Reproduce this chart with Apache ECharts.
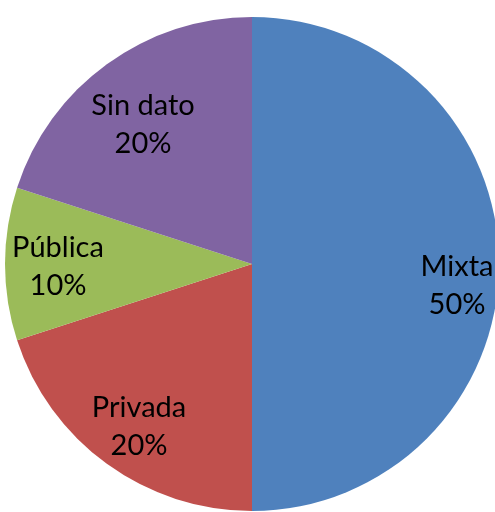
<!DOCTYPE html>
<html>
<head>
<meta charset="utf-8">
<script src="https://cdn.jsdelivr.net/npm/echarts@6/dist/echarts.min.js"></script>
<style>
  html, body { margin: 0; padding: 0; background: #fff; }
  #chart { width: 495px; height: 512px; }
</style>
</head>
<body>
<div id="chart"></div>
<script>
// datos del gráfico
const categories = ["Mixta", "Privada", "Pública", "Sin dato"];
const values = [50, 20, 10, 20];
const colors = ["#4F81BD", "#C0504D", "#9BBB59", "#8064A2"];

// pequeños ajustes de las etiquetas (como en Excel)
const labelNudge = {
  "Mixta": [6, 22],
  "Privada": [4, 2],
  "Pública": [5, 3],
  "Sin dato": [8, 22]
};

const pieData = categories.map((name, i) => ({ name: name, value: values[i] }));

let myChart = echarts.init(document.getElementById("chart"));
let option = {
  animation: false,
  color: colors,
  series: [
    {
      type: "pie",
      center: [252, 264],
      radius: [0, 247],
      startAngle: 90,
      clockwise: true,
      silent: true,
      label: { show: false },
      labelLine: { show: false },
      data: pieData
    },
    {
      // serie transparente solo para colocar las etiquetas más afuera
      type: "pie",
      center: [252, 264],
      radius: [0, 392],
      startAngle: 90,
      clockwise: true,
      silent: true,
      itemStyle: { color: "transparent" },
      label: {
        show: true,
        position: "inside",
        formatter: "{b}\n{d}%",
        fontFamily: "Lato",
        fontSize: 29,
        lineHeight: 38,
        color: "#000"
      },
      labelLine: { show: false },
      data: pieData.map(d => ({
        name: d.name,
        value: d.value,
        label: { offset: labelNudge[d.name] }
      }))
    }
  ]
};
myChart.setOption(option);
</script>
</body>
</html>
